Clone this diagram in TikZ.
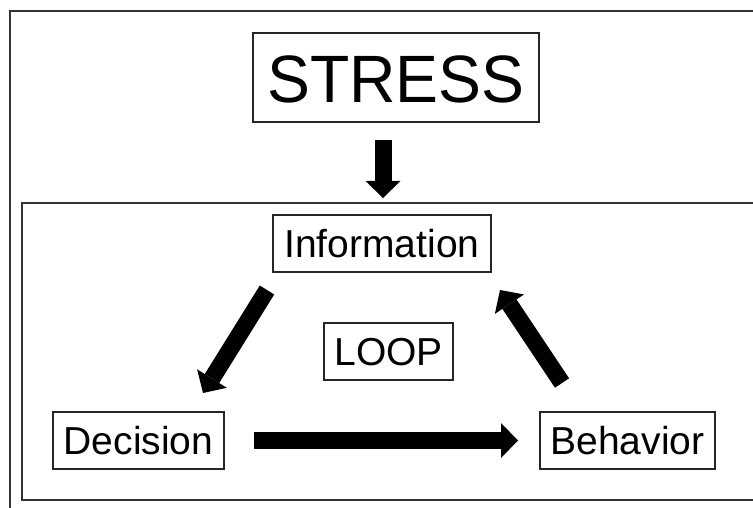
\documentclass[tikz,border=0pt]{standalone}
\usepackage{fontspec}
\setmainfont{Liberation Sans}
\usetikzlibrary{arrows.meta}
\begin{document}
\begin{tikzpicture}[x=1pt,y=-1pt,
  frame/.style={draw=black!80, line width=1.6pt},
  box/.style={draw=black!85, line width=1.4pt, inner sep=0pt, text height=28pt, text depth=0pt,
    font=\fontsize{39}{39}\selectfont, minimum height=57pt},
  bigbox/.style={draw=black!85, line width=1.4pt, inner sep=0pt, text height=51pt, text depth=0pt,
    font=\fontsize{67}{67}\selectfont, minimum height=89pt, minimum width=286pt},
  blockarrow/.style={line width=17pt, -{Triangle[length=17pt 0 0, width=35pt 0 0, line width=0pt 0 0]}}]
\clip (0,0) rectangle (753,508);
\fill[white] (0,0) rectangle (753,508);
% frames
\draw[frame] (10,11) rectangle (800,560);
\draw[frame] (22,203) rectangle (800,500);
% nodes
\node[bigbox] (stress) at (396,77.5) {\scalebox{0.96}[1]{STRESS}};
\node[box, minimum width=218pt] (info) at (382,243.5) {Information};
\node[box, minimum width=129pt] (loop) at (388.5,351.5) {LOOP};
\node[box, minimum width=171pt] (dec) at (138.5,440.5) {Decision};
\node[box, minimum width=175pt] (beh) at (627.5,440.5) {Behavior};
% arrow ends
\coordinate (a1s) at (383,140);
\coordinate (a1e) at (383,198);
\coordinate (a2s) at (267,290);
\coordinate (a2e) at (203,393);
\coordinate (a3s) at (254,440.5);
\coordinate (a3e) at (518,440.5);
\coordinate (a4s) at (562,383);
\coordinate (a4e) at (500,290);
\draw[blockarrow] (a1s) -- (a1e);
\draw[blockarrow] (a2s) -- (a2e);
\draw[blockarrow] (a3s) -- (a3e);
\draw[blockarrow] (a4s) -- (a4e);
\end{tikzpicture}
\end{document}
